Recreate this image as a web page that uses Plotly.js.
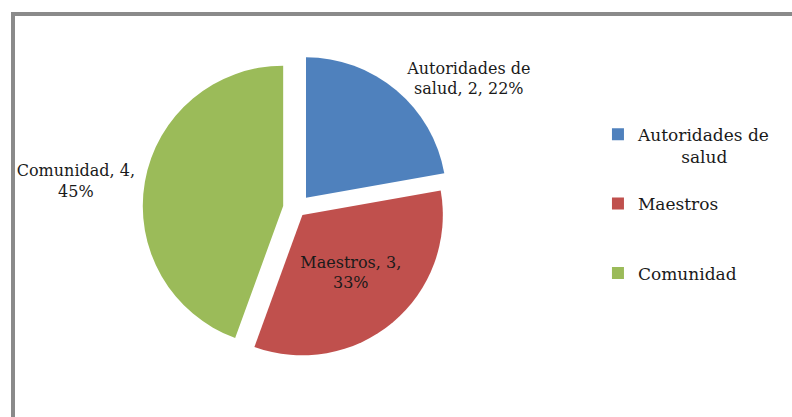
<!DOCTYPE html>
<html>
<head>
<meta charset="utf-8">
<script src="https://cdn.plot.ly/plotly-3.0.1.min.js"></script>
<style>
html,body{margin:0;padding:0;background:#fff;overflow:hidden;width:792px;height:417px;}
#frame{position:absolute;left:11px;top:12px;width:820px;height:440px;border-left:4px solid #8a8a8a;border-top:4px solid #8a8a8a;}
#chart{position:absolute;left:0;top:0;width:792px;height:417px;}
</style>
</head>
<body>
<div id="frame"></div>
<div id="chart"></div>
<script>
const categories = ["Autoridades de salud", "Maestros", "Comunidad"];
const values = [2, 3, 4];
const legendLabels = ["Autoridades de<br>        salud<br> ", "Maestros<br> <br> ", "Comunidad"];
const sliceText = ["Autoridades de<br>salud, 2, 22%", "Maestros, 3,<br>33%", "Comunidad, 4,<br>45%"];
const colors = ["#4F81BD", "#C0504D", "#9BBB59"];
const serif = "DejaVu Serif";

const trace = {
  type: "pie",
  labels: legendLabels,
  values: values,
  text: sliceText,
  texttemplate: "%{text}",
  textinfo: "text",
  hoverinfo: "label+value+percent",
  sort: false,
  direction: "clockwise",
  rotation: 0,
  pull: [0.1, 0.06, 0.1],
  marker: {colors: colors, line: {color: "#ffffff", width: 0}},
  textposition: ["outside", "inside", "outside"],
  insidetextorientation: "horizontal",
  textfont: {family: serif, size: 16, color: "#1a1a1a"},
  outsidetextfont: {family: serif, size: 16, color: "#1a1a1a"},
  domain: {x: [0.18, 0.57], y: [0.12, 0.88]},
  showlegend: true
};

const layout = {
  width: 792, height: 417,
  margin: {l: 0, r: 0, t: 0, b: 0},
  paper_bgcolor: "rgba(0,0,0,0)",
  plot_bgcolor: "rgba(0,0,0,0)",
  showlegend: true,
  font: {family: serif},
  legend: {
    x: 0.755, y: 0.72, xanchor: "left", yanchor: "top",
    font: {family: serif, size: 17, color: "#1a1a1a"},
    valign: "top",
    itemwidth: 30,
    bgcolor: "rgba(0,0,0,0)"
  }
};

Plotly.newPlot("chart", [trace], layout, {displayModeBar: false, staticPlot: true});
</script>
</body>
</html>
